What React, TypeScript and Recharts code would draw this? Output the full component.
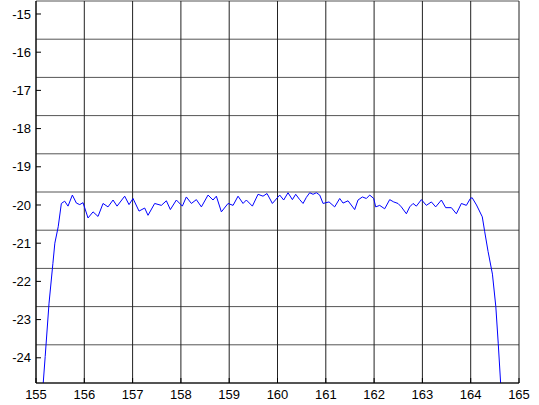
import React from 'react';
import { LineChart, Line, XAxis, YAxis, CartesianGrid } from 'recharts';

// frequency (GHz) and level (dB)
const freq = [
  155.10, 155.19, 155.27, 155.35, 155.39, 155.46, 155.525, 155.594, 155.663, 155.753,
  155.836, 155.905, 155.974, 156.077, 156.181, 156.284, 156.388, 156.491, 156.595, 156.678,
  156.836, 156.926, 157.009, 157.133, 157.25, 157.319, 157.457, 157.595, 157.699, 157.782,
  157.906, 158.03, 158.113, 158.217, 158.32, 158.424, 158.562, 158.665, 158.734, 158.838,
  158.976, 159.08, 159.183, 159.287, 159.355, 159.48, 159.597, 159.7, 159.783, 159.894,
  160.046, 160.128, 160.218, 160.308, 160.377, 160.46, 160.529, 160.598, 160.667, 160.736,
  160.805, 160.874, 160.943, 161.067, 161.184, 161.288, 161.357, 161.46, 161.598, 161.667,
  161.757, 161.84, 161.909, 161.992, 162.033, 162.116, 162.219, 162.323, 162.406, 162.495,
  162.564, 162.668, 162.737, 162.806, 162.875, 162.979, 163.082, 163.186, 163.275, 163.393,
  163.482, 163.6, 163.703, 163.807, 163.91, 163.993, 164.03, 164.12, 164.24, 164.29,
  164.36, 164.45, 164.52, 164.57, 164.62, 164.66,
];

const level = [
  -25.5, -23.97, -22.57, -21.53, -21.0, -20.57, -19.96, -19.9, -20.03, -19.74,
  -19.95, -19.99, -19.94, -20.34, -20.18, -20.3, -19.96, -20.05, -19.87, -20.03,
  -19.77, -19.99, -19.83, -20.16, -20.08, -20.27, -19.96, -20.01, -19.89, -20.12,
  -19.87, -20.03, -19.79, -19.96, -19.86, -20.05, -19.74, -19.87, -19.77, -20.18,
  -19.96, -20.01, -19.77, -19.96, -19.87, -20.03, -19.72, -19.77, -19.7, -19.96,
  -19.74, -19.87, -19.68, -19.86, -19.72, -19.86, -19.96, -19.8, -19.68, -19.72,
  -19.68, -19.74, -19.96, -19.92, -20.05, -19.83, -19.95, -19.89, -20.12, -19.87,
  -19.79, -19.83, -19.74, -19.83, -20.05, -20.01, -20.1, -19.86, -19.92, -19.96,
  -20.05, -20.23, -20.05, -19.96, -20.03, -19.86, -20.01, -19.92, -20.05, -19.87,
  -20.07, -20.07, -20.23, -19.96, -20.01, -19.83, -19.81, -20.0, -20.31, -20.7,
  -21.22, -21.81, -22.66, -23.62, -24.67, -25.5,
];

const xTicks = [155, 156, 157, 158, 159, 160, 161, 162, 163, 164, 165];
const yTicks = [-24, -23, -22, -21, -20, -19, -18, -17, -16, -15];
const gridRows = [-23.66, -22.66, -21.66, -20.66, -19.66, -18.66, -17.66, -16.66, -15.66];
const yDomain = [-24.66, -14.66];

const data = freq.map((f, i) => ({ f, v: level[i] }));

const tickFont = { fill: '#000', fontSize: 13, fontFamily: 'Liberation Sans, Arial, sans-serif' };
const blank = () => '';

export default function App() {
  return (
    <div style={{ position: 'absolute', left: 0, top: 0, background: '#fff' }}>
      <LineChart width={539} height={405} data={data} margin={{ top: 1, right: 20, bottom: 0, left: 0 }}>
        <CartesianGrid yAxisId="grid" horizontal={true} vertical={false} stroke="#555" strokeDasharray="" />
        <CartesianGrid horizontal={false} vertical={true} stroke="#222" strokeDasharray="" />
        <XAxis
          dataKey="f"
          type="number"
          domain={[155, 165]}
          ticks={xTicks}
          height={22}
          tickSize={-5}
          tickMargin={12}
          tick={tickFont}
          stroke="#000"
          interval={0}
        />
        <XAxis
          xAxisId="top"
          orientation="top"
          dataKey="f"
          type="number"
          domain={[155, 165]}
          ticks={xTicks}
          height={0}
          tickSize={-5}
          tickFormatter={blank}
          stroke="#000"
          interval={0}
        />
        <YAxis
          type="number"
          domain={yDomain}
          ticks={yTicks}
          allowDataOverflow
          width={36}
          tickSize={-5}
          tickMargin={10}
          tick={tickFont}
          stroke="#000"
          interval={0}
        />
        <YAxis
          yAxisId="right"
          orientation="right"
          type="number"
          domain={yDomain}
          ticks={yTicks}
          allowDataOverflow
          width={0}
          tickSize={-5}
          tickFormatter={blank}
          stroke="#000"
          interval={0}
        />
        <YAxis yAxisId="grid" type="number" domain={yDomain} ticks={gridRows} allowDataOverflow hide />
        <Line
          type="linear"
          dataKey="v"
          stroke="#0000ff"
          strokeWidth={1}
          dot={false}
          isAnimationActive={false}
        />
      </LineChart>
    </div>
  );
}
